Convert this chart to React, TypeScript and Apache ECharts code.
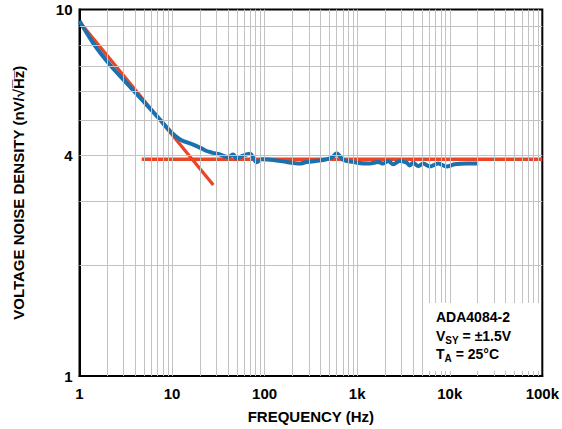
import React, { useEffect, useRef } from 'react';
import * as echarts from 'echarts';

// Measured voltage noise density (blue curve)
const noiseFreqHz = [1, 1.41, 2.13, 3.23, 4.89, 7.4, 9.49, 12.2, 16.9, 20, 23.6, 27, 32.9, 40.4, 45.8, 49.9, 56.5, 69.4, 82, 92.8, 124, 173, 240, 284, 430, 529, 600, 650, 706, 986, 1371, 1686, 1910, 2160, 2447, 2890, 3415, 3707, 4025, 4560, 5160, 6096, 7500, 9230, 11350, 15170, 20270];
const noiseDensity = [9.3, 8.09, 7.07, 6.3, 5.62, 5.01, 4.66, 4.42, 4.28, 4.2, 4.11, 4.07, 4.02, 3.96, 4.02, 3.92, 3.98, 4.04, 3.83, 3.9, 3.885, 3.835, 3.8, 3.835, 3.885, 3.94, 4.05, 3.98, 3.885, 3.82, 3.8, 3.835, 3.8, 3.86, 3.78, 3.86, 3.82, 3.755, 3.82, 3.74, 3.8, 3.73, 3.8, 3.73, 3.78, 3.8, 3.8];

// 1/f asymptote (red diagonal)
const flickerFreqHz = [1, 27.9];
const flickerDensity = [9.26, 3.32];

// white-noise floor (red horizontal)
const floorFreqHz = [4.7, 100000];
const floorDensity = [3.9, 3.9];

// gridlines
const decades = [1, 10, 100, 1000, 10000];
const multipliers = [2, 3, 4, 5, 6, 7, 8, 9];
const xMajorGrid = [10, 100, 1000, 10000];
const yMinorGrid = [2, 3, 4, 5, 6, 7, 8, 9];

const xTickLabels: Record<number, string> = { 1: '1', 10: '10', 100: '100', 1000: '1k', 10000: '10k', 100000: '100k' };
const yExtraLabel = 4;

const FONT = 'Liberation Sans, Arial, Helvetica, sans-serif';
const RED = '#ec4526';
const BLUE = '#1b71ae';
const GRID = '#c2c2c2';

export default function App() {
  const ref = useRef<HTMLDivElement>(null);
  useEffect(() => {
    if (!ref.current) return;
    const chart = echarts.init(ref.current, undefined, { renderer: 'svg' });
    const xMinorGrid: number[] = [];
    decades.forEach((d) => multipliers.forEach((m) => xMinorGrid.push(d * m)));
    const gridLines: any[] = [
      ...xMinorGrid.map((v) => ({ xAxis: v })),
      ...xMajorGrid.map((v) => ({ xAxis: v })),
      ...yMinorGrid.map((v) =>
        v === yExtraLabel
          ? {
              yAxis: v,
              label: {
                show: true,
                position: 'start',
                formatter: String(yExtraLabel),
                distance: 7,
                color: '#000',
                fontFamily: FONT,
                fontWeight: 'bold',
                fontSize: 15,
              },
            }
          : { yAxis: v }
      ),
    ];
    const labelStyle = { color: '#000', fontFamily: FONT, fontWeight: 'bold' as const, fontSize: 15 };
    const option: any = {
      animation: false,
      textStyle: { fontFamily: FONT },
      grid: {
        left: 79.5,
        right: 19.5,
        top: 9.5,
        bottom: 51.5,
        show: true,
        borderColor: '#000',
        borderWidth: 2,
        backgroundColor: 'transparent',
      },
      xAxis: {
        type: 'log',
        logBase: 10,
        min: 1,
        max: 100000,
        name: 'FREQUENCY (Hz)',
        nameLocation: 'middle',
        nameGap: 33,
        nameTextStyle: labelStyle,
        axisLine: { show: true, lineStyle: { color: '#000', width: 2 } },
        axisTick: { show: false },
        axisLabel: { ...labelStyle, margin: 10, formatter: (v: number) => xTickLabels[Math.round(v)] ?? '' },
        splitLine: { show: false },
      },
      yAxis: {
        type: 'log',
        logBase: 10,
        min: 1,
        max: 10,
        name: 'VOLTAGE NOISE DENSITY (nV/\u221AH\u0305z\u0305)',
        nameLocation: 'middle',
        nameRotate: 90,
        nameGap: 54,
        nameTextStyle: labelStyle,
        axisLine: { show: true, lineStyle: { color: '#000', width: 2 } },
        axisTick: { show: false },
        axisLabel: { ...labelStyle, margin: 7 },
        splitLine: { show: false },
      },
      series: [
        {
          type: 'line',
          name: 'grid',
          data: floorFreqHz.map((f, i) => [f, floorDensity[i]]),
          showSymbol: false,
          symbol: 'none',
          lineStyle: { opacity: 0 },
          silent: true,
          z: 1,
          markLine: {
            silent: true,
            symbol: ['none', 'none'],
            label: { show: false },
            lineStyle: { color: GRID, width: 1, type: 'solid' },
            emphasis: { disabled: true },
            data: gridLines,
          },
        },
        {
          type: 'line',
          name: 'flicker',
          data: flickerFreqHz.map((f, i) => [f, flickerDensity[i]]),
          symbol: 'none',
          lineStyle: { color: RED, width: 3.3 },
          z: 3,
        },
        {
          type: 'line',
          name: 'floor',
          data: floorFreqHz.map((f, i) => [f, floorDensity[i]]),
          symbol: 'none',
          lineStyle: { color: RED, width: 3.5 },
          z: 3,
        },
        {
          type: 'line',
          name: 'noise',
          data: noiseFreqHz.map((f, i) => [f, noiseDensity[i]]),
          symbol: 'none',
          smooth: 0.3,
          lineStyle: { color: BLUE, width: 4 },
          z: 4,
        },
      ],
      graphic: [
        {
          type: 'rect',
          z: 100,
          shape: { x: 428, y: 303, width: 113, height: 68 },
          style: { fill: '#fff' },
        },
        {
          type: 'text',
          z: 101,
          x: 436,
          y: 317,
          style: {
            text: 'ADA4084-2',
            fill: '#000',
            fontFamily: FONT,
            fontWeight: 'bold',
            fontSize: 14,
            verticalAlign: 'middle',
          },
        },
        {
          type: 'text',
          z: 101,
          x: 436,
          y: 336,
          style: {
            text: '{m|V}{s|SY}{m| = \u00B11.5V}',
            verticalAlign: 'middle',
            rich: {
              m: { fill: '#000', fontFamily: FONT, fontWeight: 'bold', fontSize: 14, lineHeight: 18, verticalAlign: 'middle' },
              s: { fill: '#000', fontFamily: FONT, fontWeight: 'bold', fontSize: 10, lineHeight: 10, verticalAlign: 'bottom' },
            },
          },
        },
        {
          type: 'text',
          z: 101,
          x: 436,
          y: 354,
          style: {
            text: '{m|T}{s|A}{m| = 25\u00B0C}',
            verticalAlign: 'middle',
            rich: {
              m: { fill: '#000', fontFamily: FONT, fontWeight: 'bold', fontSize: 14, lineHeight: 18, verticalAlign: 'middle' },
              s: { fill: '#000', fontFamily: FONT, fontWeight: 'bold', fontSize: 10, lineHeight: 10, verticalAlign: 'bottom' },
            },
          },
        },
      ],
    };
    chart.setOption(option);
    return () => chart.dispose();
  }, []);
  return (
    <div
      ref={ref}
      style={{ position: 'fixed', left: 0, top: 0, width: 562, height: 429, background: '#fff' }}
    />
  );
}
